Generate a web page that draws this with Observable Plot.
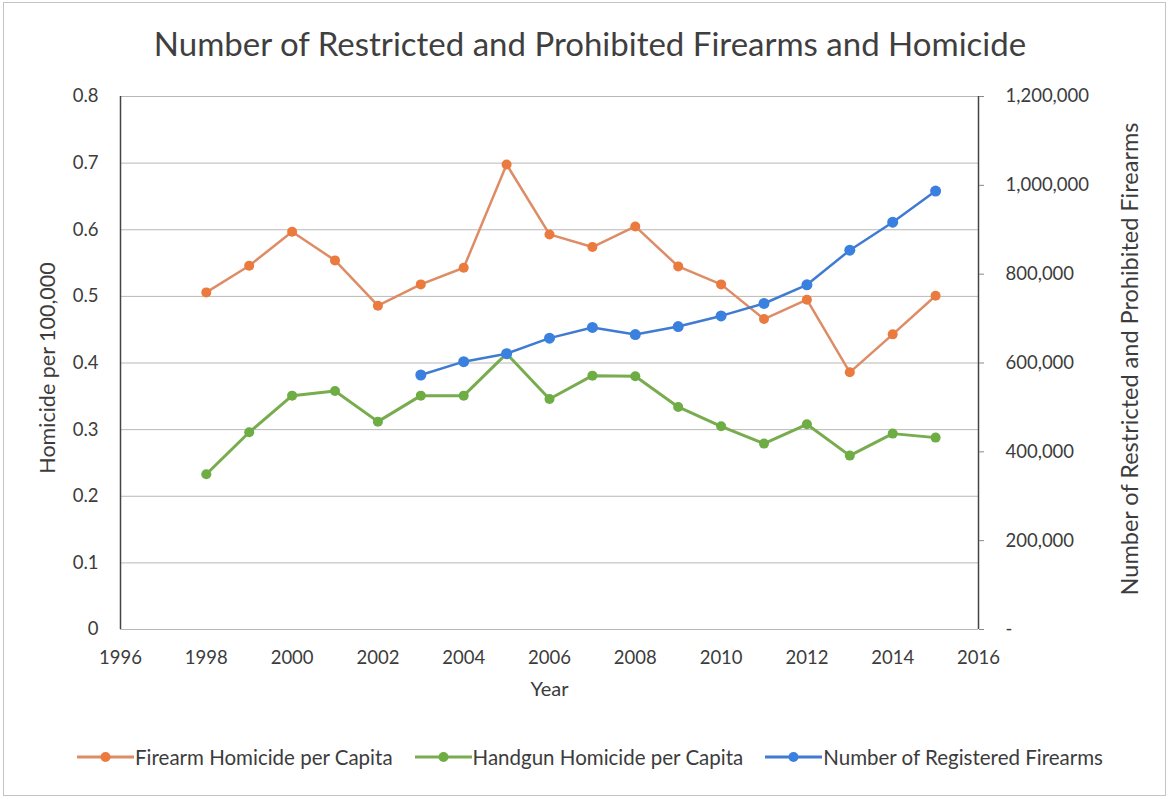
<!DOCTYPE html>
<html>
<head>
<meta charset="utf-8">
<script src="https://cdn.jsdelivr.net/npm/d3@7"></script>
<script src="https://cdn.jsdelivr.net/npm/@observablehq/plot@0.6"></script>
<style>
  html, body { margin: 0; padding: 0; background: #fff; }
  body { width: 1170px; height: 799px; position: relative; overflow: hidden; font-family: Lato, "Open Sans", sans-serif; color: #3c3c3c; }
  #frame { position: absolute; left: 3px; top: 2px; width: 1163px; height: 794px; border: 1px solid #c4c4c4; box-sizing: border-box; }
  #title { position: absolute; left: 0; top: 23px; width: 1180px; text-align: center; font-size: 33px; line-height: 40px; color: #3f3f3f; }
  #chart { position: absolute; left: 0; top: 75px; }
  #legend { position: absolute; left: 0; top: 745px; width: 1180px; display: flex; justify-content: center; align-items: center; gap: 22px; font-size: 20.5px; color: #3c3c3c; }
  .item { display: flex; align-items: center; }
  .item svg { margin-right: 1px; }
</style>
</head>
<body>
<div id="frame"></div>
<div id="title">Number of Restricted and Prohibited Firearms and Homicide</div>
<div id="chart"></div>
<div id="legend"></div>
<script>
// ---- data ----
const years = [1998, 1999, 2000, 2001, 2002, 2003, 2004, 2005, 2006, 2007, 2008, 2009, 2010, 2011, 2012, 2013, 2014, 2015];
const firearmHomicide = [0.506, 0.546, 0.597, 0.554, 0.486, 0.518, 0.543, 0.698, 0.593, 0.574, 0.605, 0.545, 0.518, 0.466, 0.495, 0.386, 0.443, 0.501];
const handgunHomicide = [0.233, 0.296, 0.351, 0.358, 0.312, 0.351, 0.351, 0.414, 0.346, 0.381, 0.380, 0.334, 0.305, 0.279, 0.308, 0.261, 0.294, 0.288];
const registeredYears = [2003, 2004, 2005, 2006, 2007, 2008, 2009, 2010, 2011, 2012, 2013, 2014, 2015];
const registeredFirearms = [573000, 603000, 621000, 656000, 680000, 664000, 682000, 706000, 734000, 776000, 854000, 917000, 987000];
const xTicks = [1996, 1998, 2000, 2002, 2004, 2006, 2008, 2010, 2012, 2014, 2016];
const leftTicks = [0, 0.1, 0.2, 0.3, 0.4, 0.5, 0.6, 0.7, 0.8];
const rightTicks = [0, 200000, 400000, 600000, 800000, 1000000, 1200000];
const seriesNames = ["Firearm Homicide per Capita", "Handgun Homicide per Capita", "Number of Registered Firearms"];
const lineColors = ["#de8c66", "#78ac4e", "#3f7bd2"];
const dotColors = ["#ea7a3e", "#6dad44", "#3a80de"];

// ---- build tables ----
const ratio = 1200000 / 0.8; // right axis units per left axis unit
const firearm = years.map((y, i) => ({year: y, value: firearmHomicide[i]}));
const handgun = years.map((y, i) => ({year: y, value: handgunHomicide[i]}));
const registered = registeredYears.map((y, i) => ({year: y, value: registeredFirearms[i] / ratio}));

const fmt = d3.format(",");
const textColor = "#3c3c3c";

const chart = Plot.plot({
  width: 1170,
  height: 650,
  marginLeft: 120,
  marginRight: 192,
  marginTop: 21,
  marginBottom: 96,
  style: {fontFamily: "Lato, 'Open Sans', sans-serif", fontSize: "18px", color: textColor, background: "transparent"},
  x: {domain: [1996, 2016]},
  y: {domain: [0, 0.8]},
  marks: [
    Plot.ruleY(leftTicks, {stroke: "#b8b8b8", strokeWidth: 1}),
    Plot.ruleX([1996], {stroke: "#444", strokeWidth: 1.5}),
    Plot.ruleX([2016], {stroke: "#444", strokeWidth: 1.5}),
    Plot.axisX({ticks: xTicks, tickFormat: d => String(d), tickSize: 0, tickPadding: 21, label: null, fontSize: 18.5}),
    Plot.axisY({ticks: leftTicks, tickFormat: d => d === 0 ? "0" : d3.format(".1f")(d), tickSize: 0, tickPadding: 22, label: null, fontSize: 18.5}),
    Plot.axisY({anchor: "right", ticks: rightTicks.map(v => v / ratio), tickFormat: d => { const v = Math.round(d * ratio); return v === 0 ? "-" : fmt(v); }, tickSize: 5, tickPadding: 22, label: null, fontSize: 18.5, stroke: "#888"}),
    Plot.text(["Homicide per 100,000"], {frameAnchor: "left", textAnchor: "middle", dx: -72, dy: 5, rotate: -90, fontSize: 21.5, fill: textColor}),
    Plot.text(["Number of Restricted and Prohibited Firearms"], {frameAnchor: "right", textAnchor: "middle", dx: 152, dy: -4, rotate: -90, fontSize: 23.5, fill: textColor}),
    Plot.text(["Year"], {frameAnchor: "bottom", dy: 66, fontSize: 20, fill: textColor}),
    Plot.line(firearm, {x: "year", y: "value", stroke: lineColors[0], strokeWidth: 2.5}),
    Plot.line(handgun, {x: "year", y: "value", stroke: lineColors[1], strokeWidth: 3}),
    Plot.line(registered, {x: "year", y: "value", stroke: lineColors[2], strokeWidth: 2.5}),
    Plot.dot(firearm, {x: "year", y: "value", fill: dotColors[0], r: 5}),
    Plot.dot(handgun, {x: "year", y: "value", fill: dotColors[1], r: 5}),
    Plot.dot(registered, {x: "year", y: "value", fill: dotColors[2], r: 5.5})
  ]
});
document.getElementById("chart").appendChild(chart);

// ---- legend ----
const legend = document.getElementById("legend");
seriesNames.forEach((name, i) => {
  const item = document.createElement("div");
  item.className = "item";
  item.innerHTML = `<svg width="57" height="14"><line x1="0" y1="7" x2="57" y2="7" stroke="${lineColors[i]}" stroke-width="3"/><circle cx="28.5" cy="7" r="5" fill="${dotColors[i]}"/></svg><span>${name}</span>`;
  legend.appendChild(item);
});
</script>
</body>
</html>
